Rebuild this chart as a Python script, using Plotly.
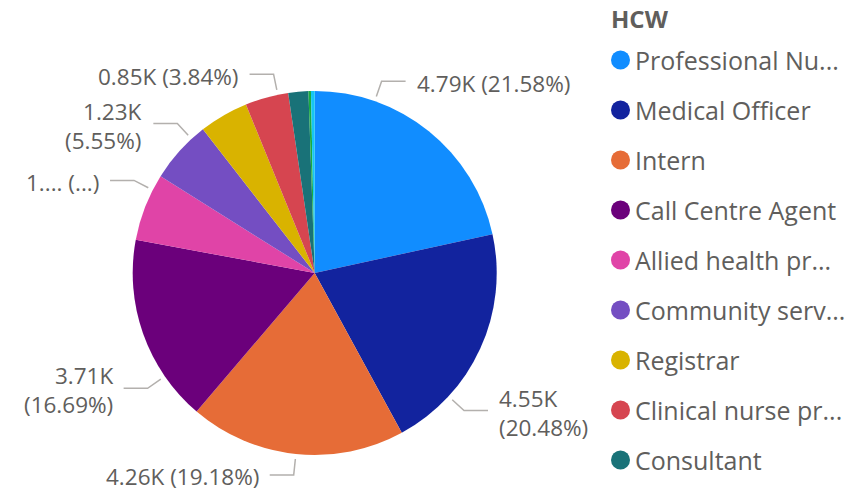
import math
import plotly.graph_objects as go

# ---------------- data ----------------
categories = ["Professional Nurse", "Medical Officer", "Intern", "Call Centre Agent",
              "Allied health professional", "Community service", "Registrar",
              "Clinical nurse practitioner", "Consultant", "Pharmacist", "Other"]
counts = [4791, 4547, 4258, 3705, 1332, 1232, 968, 852, 395, 49, 73]
legend_title = "HCW"
legend_texts = ["Professional Nu...", "Medical Officer", "Intern", "Call Centre Agent",
                "Allied health pr...", "Community serv...", "Registrar",
                "Clinical nurse pr...", "Consultant"]

# ---------------- style ----------------
colors = ["#118DFF", "#12239E", "#E66C37", "#6B007B", "#E044A7", "#744EC2",
          "#D9B300", "#D64550", "#197278", "#1AAB40", "#15C6F4"]
# per-slice label placement: index -> (angle shift deg, two lines, truncated)
label_style = {
    0: (-19.6, False, False),
    1: (18.1, True, False),
    2: (0.0, False, False),
    3: (-15.1, True, False),
    4: (5.8, False, True),
    5: (5.3, True, False),
    7: (3.6, False, False),
}
PAGE_OFF = 8          # default body margin of the html page
W, H = 858 - PAGE_OFF, 493 - PAGE_OFF
CX, CY, R = 314.7, 273.0, 182.0   # screen pixels
FONT = "Open Sans, Noto Sans, sans-serif"
TXT = "#605E5C"
LINE = "#B3B0AD"


def px(x):
    return (x - PAGE_OFF) / W


def py(y):
    return 1 - (y - PAGE_OFF) / H


fig = go.Figure()
fig.add_trace(go.Pie(
    labels=categories, values=counts, sort=False, direction="clockwise",
    rotation=0, marker=dict(colors=colors, line=dict(width=0)),
    textinfo="none", showlegend=False,
    domain=dict(x=[px(CX - R), px(CX + R)], y=[py(CY + R), py(CY - R)]),
))

shapes = []
annotations = []
total = sum(counts)
cum = 0
for i, c in enumerate(counts):
    a0 = cum / total * 360
    cum += c
    a1 = cum / total * 360
    if i not in label_style:
        continue
    shift, two, trunc = label_style[i]
    th = math.radians((a0 + a1) / 2 + shift)
    ux, uy = math.sin(th), -math.cos(th)
    x0, y0 = CX + (R + 5) * ux, CY + (R + 5) * uy
    x1, y1 = x0 + 16 * ux, y0 + 16 * uy
    side = 1 if ux > 0 else -1
    x2, y2 = x1 + side * 24, y1
    shapes.append(dict(
        type="path", xref="paper", yref="paper",
        path=f"M {px(x0)},{py(y0)} L {px(x1)},{py(y1)} L {px(x2)},{py(y2)}",
        line=dict(color=LINE, width=1.5)))
    val = f"{c / 1000:.2f}K"
    pct = f"({c / total * 100:.2f}%)"
    if trunc:
        text = val[:2] + "..." + " (...)"
    elif two:
        text = val + "<br>" + pct
    else:
        text = val + " " + pct
    annotations.append(dict(
        x=px(x2 + side * 9), y=py(y2 + 2), xref="paper", yref="paper",
        text=text, showarrow=False,
        xanchor="left" if side > 0 else "right", yanchor="middle",
        align="left" if side > 0 else "right",
        font=dict(family=FONT, size=22.5, color=TXT)))

# legend (drawn manually to match spacing)
annotations.append(dict(
    x=px(609), y=py(18), xref="paper", yref="paper", text=f"<b>{legend_title}</b>",
    showarrow=False, xanchor="left", yanchor="middle",
    font=dict(family=FONT, size=24, color=TXT)))
for i, t in enumerate(legend_texts):
    yc = 60 + 50 * i
    shapes.append(dict(
        type="circle", xref="paper", yref="paper",
        x0=px(611), x1=px(630), y0=py(yc + 9.5), y1=py(yc - 9.5),
        fillcolor=colors[i], line=dict(width=0)))
    annotations.append(dict(
        x=px(633), y=py(yc), xref="paper", yref="paper", text=t,
        showarrow=False, xanchor="left", yanchor="middle",
        font=dict(family=FONT, size=25, color=TXT)))

fig.update_layout(
    width=W, height=H, margin=dict(l=0, r=0, t=0, b=0),
    paper_bgcolor="white", plot_bgcolor="white",
    shapes=shapes, annotations=annotations,
)
fig.write_html("out.html")
